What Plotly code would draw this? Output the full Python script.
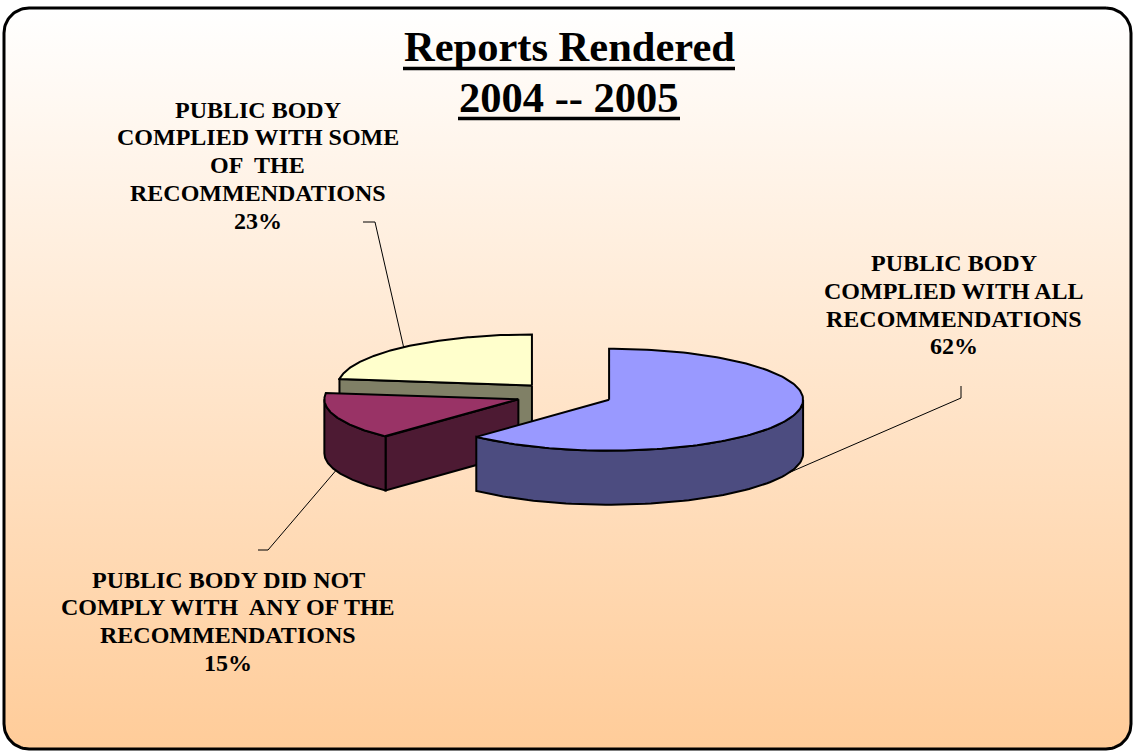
import numpy as np
import plotly.graph_objects as go

# ---------------- data ----------------
categories = [
    "PUBLIC BODY<br>COMPLIED WITH ALL<br>RECOMMENDATIONS",
    "PUBLIC BODY DID NOT<br>COMPLY WITH  ANY OF THE<br>RECOMMENDATIONS",
    "PUBLIC BODY<br>COMPLIED WITH SOME<br>OF  THE<br>RECOMMENDATIONS",
]
values = [62, 15, 23]
top_colors = ["#9999FF", "#993366", "#FFFFCC"]
side_colors = ["#4C4C80", "#4D1A33", "#808066"]
title_lines = ["Reports Rendered", "2004 -- 2005"]

# ---------------- layout constants ----------------
W, H = 1135, 751
CX, CY = 564, 395
RX, RY = 194, 51
DEPTH = 54
EXPLODE = 0.25
FONT = "Liberation Serif"
label_pos = [(954, 263), (228, 579.5), (257.5, 109.5)]
leader_knee = [((961, 386), (961, 398)), ((258, 550), (268, 550)), ((363, 222), (375, 222))]
LINE_STEP = 27.8


def pt(cx, cy, th):
    r = np.radians(th)
    return cx + RX * np.sin(r), cy - RY * np.cos(r)


fig = go.Figure()

# background rounded rectangle with vertical gradient
bx0, by0, bx1, by1, rr = 4, 8, 1131, 749, 25
bgx, bgy = [], []
for (ccx, ccy, a0, a1) in [(bx1 - rr, by0 + rr, -90, 0), (bx1 - rr, by1 - rr, 0, 90),
                          (bx0 + rr, by1 - rr, 90, 180), (bx0 + rr, by0 + rr, 180, 270)]:
    for a in np.linspace(a0, a1, 20):
        bgx.append(ccx + rr * np.cos(np.radians(a)))
        bgy.append(ccy + rr * np.sin(np.radians(a)))
bgx.append(bgx[0]); bgy.append(bgy[0])
fig.add_trace(go.Scatter(
    x=bgx, y=bgy, mode="lines", fill="toself",
    fillgradient=dict(type="vertical", colorscale=[[0, "#FFFFFF"], [1, "#FFCC99"]],
                      start=by0, stop=by1),
    line=dict(color="black", width=3), hoverinfo="skip", showlegend=False))

# ---------------- 3D pie ----------------
total = sum(values)
slices = []
acc = 0.0
for i, v in enumerate(values):
    th0 = acc / total * 360
    acc += v
    th1 = acc / total * 360
    mid = (th0 + th1) / 2
    r = np.radians(mid)
    cx = CX + EXPLODE * RX * np.sin(r)
    cy = CY - EXPLODE * RY * np.cos(r)
    slices.append(dict(i=i, th0=th0, th1=th1, mid=mid, cx=cx, cy=cy, front=-np.cos(r)))


def poly(xs, ys, color):
    fig.add_trace(go.Scatter(
        x=list(xs) + [xs[0]], y=list(ys) + [ys[0]], mode="lines", fill="toself",
        fillcolor=color, line=dict(color="black", width=2),
        hoverinfo="skip", showlegend=False))


for s in sorted(slices, key=lambda d: d["front"]):
    i, th0, th1, cx, cy = s["i"], s["th0"], s["th1"], s["cx"], s["cy"]
    # radial faces visible to viewer
    for th, vis in [(th0, np.sin(np.radians(th0)) < -1e-9), (th1, np.sin(np.radians(th1)) > 1e-9)]:
        if vis:
            px, py = pt(cx, cy, th)
            poly([cx, px, px, cx], [cy, py, py + DEPTH, cy + DEPTH], side_colors[i])
    # outer curved side (front half 90..270)
    a, b = max(th0, 90), min(th1, 270)
    if b > a:
        ang = np.linspace(a, b, 80)
        tx, ty = pt(cx, cy, ang)
        xs = list(tx) + list(tx[::-1])
        ys = list(ty) + list((ty + DEPTH)[::-1])
        poly(xs, ys, side_colors[i])
    # top face
    ang = np.linspace(th0, th1, 160)
    tx, ty = pt(cx, cy, ang)
    poly([cx] + list(tx), [cy] + list(ty), top_colors[i])

# ---------------- labels & leaders ----------------
annotations = []
for s in slices:
    i = s["i"]
    lines = categories[i].split("<br>") + [f"{values[i]}%"]
    lx, ly = label_pos[i]
    for k, t in enumerate(lines):
        annotations.append(dict(x=lx, y=ly + k * LINE_STEP, xref="x", yref="y",
                                text=f"<b>{t}</b>", showarrow=False,
                                xanchor="center", yanchor="middle",
                                font=dict(family=FONT, size=24, color="black")))
    ex, ey = pt(s["cx"], s["cy"], s["mid"])
    if s["front"] > 0:
        ey += DEPTH
    (k0x, k0y), (k1x, k1y) = leader_knee[i]
    fig.add_trace(go.Scatter(x=[k0x, k1x, ex], y=[k0y, k1y, ey], mode="lines",
                             line=dict(color="black", width=1),
                             hoverinfo="skip", showlegend=False))

# ---------------- title ----------------
title_y = [46, 97]
underline = [(403, 735, 68.5), (458, 680, 118.5)]
shapes = []
for t, y, (ux0, ux1, uy) in zip(title_lines, title_y, underline):
    annotations.append(dict(x=569, y=y, xref="x", yref="y", text=f"<b>{t}</b>",
                            showarrow=False, xanchor="center", yanchor="middle",
                            font=dict(family=FONT, size=42.5, color="black")))
    shapes.append(dict(type="line", xref="x", yref="y", x0=ux0, x1=ux1, y0=uy, y1=uy,
                       line=dict(color="black", width=3.5)))

fig.update_layout(
    width=W, height=H, margin=dict(l=0, r=0, t=0, b=0),
    paper_bgcolor="white", plot_bgcolor="white",
    xaxis=dict(range=[0, W], visible=False, fixedrange=True),
    yaxis=dict(range=[H, 0], visible=False, fixedrange=True),
    annotations=annotations, shapes=shapes, showlegend=False,
)

fig.write_html("out.html")
